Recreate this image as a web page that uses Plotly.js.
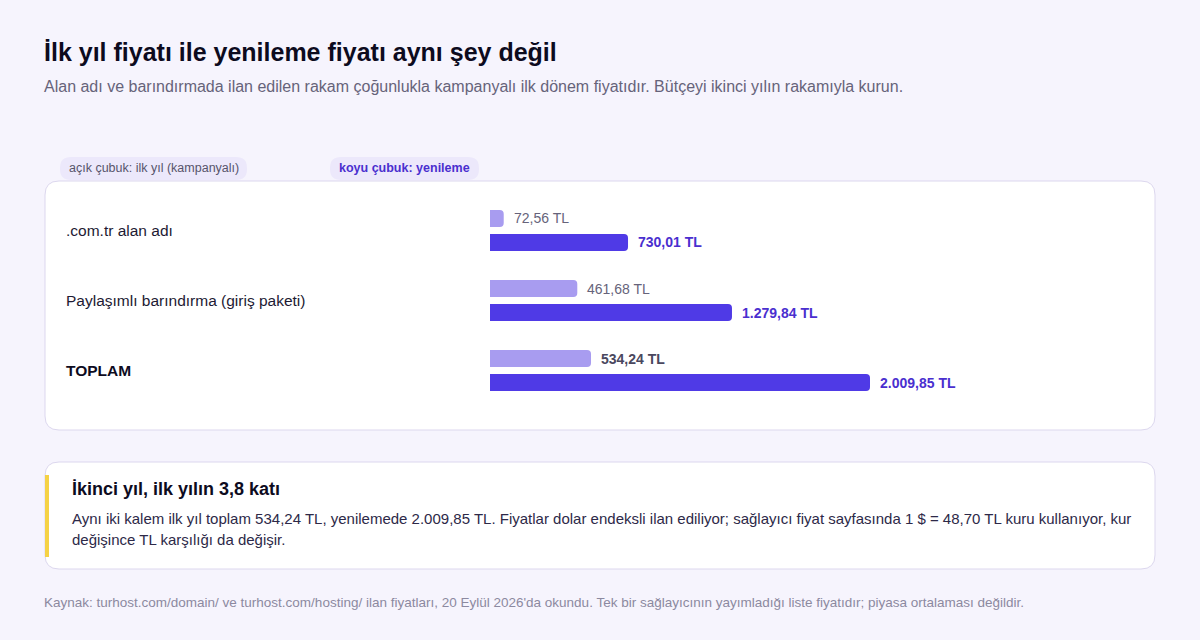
<!DOCTYPE html>
<html>
<head>
<meta charset="utf-8">
<script src="https://cdn.plot.ly/plotly-3.0.1.min.js"></script>
<style>
  html, body { margin: 0; padding: 0; background: #f6f4fd; }
  #chart { width: 1200px; height: 640px; }
</style>
</head>
<body>
<div id="chart"></div>
<script>
// ---- data ----
const categories = [".com.tr alan adı", "Paylaşımlı barındırma (giriş paketi)", "TOPLAM"];
const firstYear = [72.56, 461.68, 534.24];
const renewal = [730.01, 1279.84, 2009.85];
const seriesNames = ["açık çubuk: ilk yıl (kampanyalı)", "koyu çubuk: yenileme"];

const titleText = "İlk yıl fiyatı ile yenileme fiyatı aynı şey değil";
const subtitleText = "Alan adı ve barındırmada ilan edilen rakam çoğunlukla kampanyalı ilk dönem fiyatıdır. Bütçeyi ikinci yılın rakamıyla kurun.";
const calloutTitle = "İkinci yıl, ilk yılın 3,8 katı";
const calloutBody = ["Aynı iki kalem ilk yıl toplam 534,24 TL, yenilemede 2.009,85 TL. Fiyatlar dolar endeksli ilan ediliyor; sağlayıcı fiyat sayfasında 1 $ = 48,70 TL kuru kullanıyor, kur",
                     "değişince TL karşılığı da değişir."];
const sourceText = "Kaynak: turhost.com/domain/ ve turhost.com/hosting/ ilan fiyatları, 20 Eylül 2026'da okundu. Tek bir sağlayıcının yayımladığı liste fiyatıdır; piyasa ortalaması değildir.";

// ---- helpers ----
const W = 1200, H = 640;
const FONT = "Liberation Sans, Arial, Helvetica, sans-serif";
const X = px => px / W;
const Y = py => 1 - py / H;
function fmtTL(v) {
  const parts = v.toFixed(2).split(".");
  const int = parts[0].replace(/\B(?=(\d{3})+(?!\d))/g, ".");
  return int + "," + parts[1] + " TL";
}
function roundRect(x0, y0, x1, y1, r) {
  const rx = r / W, ry = r / H;
  const a = X(x0), b = X(x1), t = Y(y0), btm = Y(y1);
  return `M ${a + rx},${t} L ${b - rx},${t} Q ${b},${t} ${b},${t - ry} ` +
         `L ${b},${btm + ry} Q ${b},${btm} ${b - rx},${btm} ` +
         `L ${a + rx},${btm} Q ${a},${btm} ${a},${btm + ry} ` +
         `L ${a},${t - ry} Q ${a},${t} ${a + rx},${t} Z`;
}

const LIGHT = "#a89cf0";
const DARK = "#4f3ae6";

const traces = [
  { type: "bar", orientation: "h", name: seriesNames[0], y: categories, x: firstYear,
    marker: { color: LIGHT, cornerradius: 4 }, hoverinfo: "skip" },
  { type: "bar", orientation: "h", name: seriesNames[1], y: categories, x: renewal,
    marker: { color: DARK, cornerradius: 4 }, hoverinfo: "skip" }
];

const annotations = [];
categories.forEach((c, i) => {
  const isTotal = i === categories.length - 1;
  annotations.push({ xref: "paper", yref: "y", x: X(64), y: c, xanchor: "left", yanchor: "middle",
    text: isTotal ? "<b>" + c + "</b>" : c, showarrow: false,
    font: { family: FONT, size: 15.5, color: isTotal ? "#0d0b1e" : "#1d1a33" } });
  annotations.push({ xref: "x", yref: "y", x: firstYear[i], y: c, xanchor: "left", yanchor: "middle",
    xshift: 8, yshift: 12, showarrow: false,
    text: isTotal ? "<b>" + fmtTL(firstYear[i]) + "</b>" : fmtTL(firstYear[i]),
    font: { family: FONT, size: 14, color: isTotal ? "#4a475e" : "#66637a" } });
  annotations.push({ xref: "x", yref: "y", x: renewal[i], y: c, xanchor: "left", yanchor: "middle",
    xshift: 8, yshift: -12, showarrow: false,
    text: "<b>" + fmtTL(renewal[i]) + "</b>",
    font: { family: FONT, size: 14, color: "#4a2fcf" } });
});

// legend pills
annotations.push({ xref: "paper", yref: "paper", x: X(67), y: Y(168), xanchor: "left", yanchor: "middle",
  text: seriesNames[0], showarrow: false, font: { family: FONT, size: 12.5, color: "#57546b" } });
annotations.push({ xref: "paper", yref: "paper", x: X(337), y: Y(168), xanchor: "left", yanchor: "middle",
  text: "<b>" + seriesNames[1] + "</b>", showarrow: false, font: { family: FONT, size: 12.5, color: "#4a2fcf" } });

// subtitle
annotations.push({ xref: "paper", yref: "paper", x: X(42), y: Y(86), xanchor: "left", yanchor: "middle",
  text: subtitleText, showarrow: false, font: { family: FONT, size: 16, color: "#66637a" } });

// callout
annotations.push({ xref: "paper", yref: "paper", x: X(70), y: Y(489), xanchor: "left", yanchor: "middle",
  text: "<b>" + calloutTitle + "</b>", showarrow: false, font: { family: FONT, size: 18, color: "#0d0b1e" } });
calloutBody.forEach((line, k) => {
  annotations.push({ xref: "paper", yref: "paper", x: X(70), y: Y(518 + 21 * k), xanchor: "left", yanchor: "middle",
    text: line, showarrow: false, font: { family: FONT, size: 15, color: "#2d2948" } });
});

// source
annotations.push({ xref: "paper", yref: "paper", x: X(42), y: Y(602), xanchor: "left", yanchor: "middle",
  text: sourceText, showarrow: false, font: { family: FONT, size: 13.5, color: "#8c89a0" } });

const shapes = [
  { type: "path", xref: "paper", yref: "paper", layer: "below", path: roundRect(60, 157, 247, 180, 11),
    fillcolor: "#ece8fb", line: { width: 0 } },
  { type: "path", xref: "paper", yref: "paper", layer: "below", path: roundRect(330, 157, 479, 180, 11),
    fillcolor: "#ece8fb", line: { width: 0 } },
  { type: "path", xref: "paper", yref: "paper", layer: "below", path: roundRect(45, 181, 1155, 430, 14),
    fillcolor: "#ffffff", line: { color: "#dcd7ee", width: 1 } },
  { type: "path", xref: "paper", yref: "paper", layer: "below", path: roundRect(45, 462, 1155, 569, 14),
    fillcolor: "#ffffff", line: { color: "#dcd7ee", width: 1 } },
  { type: "rect", xref: "paper", yref: "paper", layer: "below", x0: X(45), x1: X(49), y0: Y(475), y1: Y(557),
    fillcolor: "#f5d245", line: { width: 0 } }
];

const layout = {
  width: W, height: H,
  margin: { l: 0, r: 0, t: 0, b: 0 },
  paper_bgcolor: "#f6f4fd",
  plot_bgcolor: "rgba(0,0,0,0)",
  showlegend: false,
  barmode: "group",
  bargap: 0.314,
  bargroupgap: 0.29,
  title: { text: "<b>" + titleText + "</b>", xref: "paper", yref: "container", x: X(44), xanchor: "left",
    y: Y(52), yanchor: "middle", font: { family: FONT, size: 25, color: "#0d0b1e" } },
  xaxis: { domain: [X(490), X(1130)], range: [0, 3385], visible: false, fixedrange: true },
  yaxis: { domain: [Y(405.5), Y(195.5)], range: [2.5, -0.5], type: "category", visible: false, fixedrange: true },
  annotations: annotations,
  shapes: shapes,
  font: { family: FONT }
};

Plotly.newPlot("chart", traces, layout, { displayModeBar: false, staticPlot: true });
</script>
</body>
</html>
